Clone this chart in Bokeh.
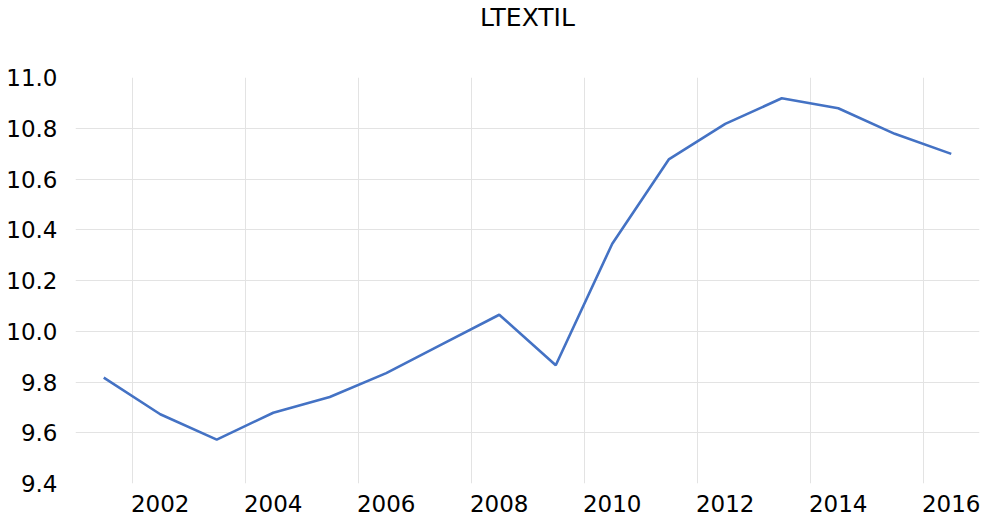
from bokeh.plotting import figure
from bokeh.models import FixedTicker, Range1d, Title, NumeralTickFormatter
from bokeh.embed import file_html
from bokeh.resources import INLINE

years = [2001, 2002, 2003, 2004, 2005, 2006, 2007, 2008,
         2009, 2010, 2011, 2012, 2013, 2014, 2015, 2016]
ltextil = [9.817, 9.673, 9.573, 9.679, 9.741, 9.835, 9.950, 10.065,
           9.866, 10.345, 10.677, 10.817, 10.918, 10.879, 10.778, 10.699]
x_tick_years = [2002, 2004, 2006, 2008, 2010, 2012, 2014, 2016]
y_ticks = [9.4, 9.6, 9.8, 10.0, 10.2, 10.4, 10.6, 10.8, 11.0]
title_text = "LTEXTIL"

FONT = "DejaVu Sans"

p = figure(width=986, height=518, output_backend="svg", toolbar_location=None,
           x_range=Range1d(years[0] - 0.5, years[-1] + 0.5),
           y_range=Range1d(y_ticks[0], y_ticks[-1]),
           min_border_left=75, min_border_right=7, min_border_bottom=35,
           min_border_top=0)
p.title = None

# spacer (closest to the frame), then the real title above it
p.add_layout(Title(text=" ", text_font=FONT, text_font_size="25px",
                   standoff=15, offset=0), "above")
p.add_layout(Title(text=title_text, align="center", text_font=FONT,
                   text_font_size="25px", text_font_style="normal",
                   text_color="#000000", standoff=0, offset=0), "above")

p.line(years, ltextil, line_color="#4472C4", line_width=2.6)

p.outline_line_color = None

# x axis
p.xaxis.ticker = FixedTicker(ticks=x_tick_years)
p.xaxis.axis_line_color = None
p.xaxis.major_tick_line_color = None
p.xaxis.minor_tick_line_color = None
p.xaxis.major_label_text_font = FONT
p.xaxis.major_label_text_font_size = "23px"
p.xaxis.major_label_text_color = "#000000"
p.xaxis.major_label_standoff = 5

# y axis
p.yaxis.ticker = FixedTicker(ticks=y_ticks)
p.yaxis.formatter = NumeralTickFormatter(format="0.0")
p.yaxis.axis_line_color = None
p.yaxis.major_tick_line_color = None
p.yaxis.minor_tick_line_color = None
p.yaxis.major_label_text_font = FONT
p.yaxis.major_label_text_font_size = "23px"
p.yaxis.major_label_text_color = "#000000"
p.yaxis.major_label_standoff = 12

# grids: vertical lines at band boundaries left of each labelled year,
# horizontal lines at interior ticks only
p.xgrid.ticker = FixedTicker(ticks=[y - 0.5 for y in x_tick_years])
p.xgrid.grid_line_color = "#E3E3E3"
p.xgrid.grid_line_width = 1
p.ygrid.ticker = FixedTicker(ticks=y_ticks[1:-1])
p.ygrid.grid_line_color = "#E3E3E3"
p.ygrid.grid_line_width = 1

open("out.html", "w").write(file_html(p, INLINE))
